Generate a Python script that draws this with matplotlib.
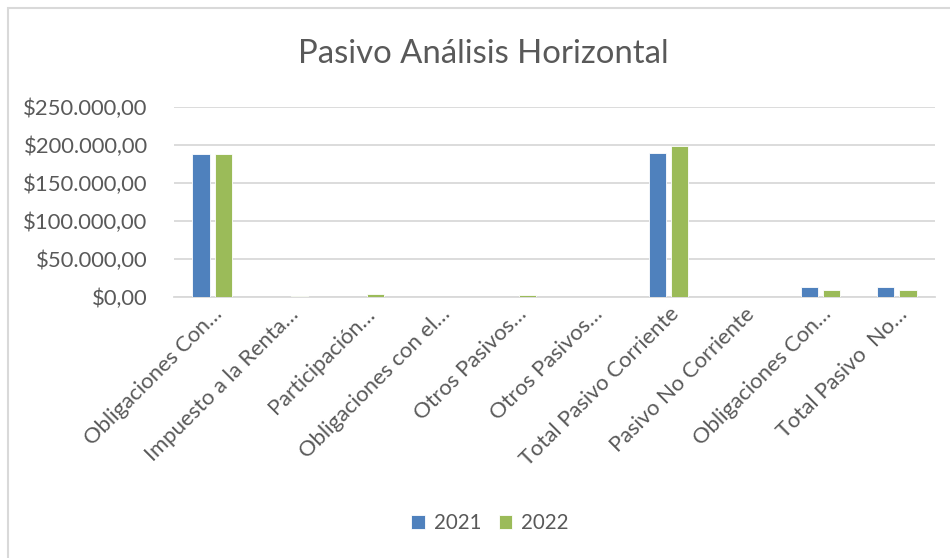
import matplotlib
matplotlib.use("Agg")
import matplotlib.pyplot as plt
import numpy as np
from matplotlib.patches import Rectangle
from matplotlib.ticker import FuncFormatter

categories = ["Obligaciones Con…", "Impuesto a la Renta…", "Participación…",
              "Obligaciones con el…", "Otros Pasivos…", "Otros Pasivos…",
              "Total Pasivo Corriente", "Pasivo No Corriente",
              "Obligaciones Con…", "Total Pasivo  No…"]
values_2021 = [187700, 300, 0, 300, 500, 0, 189200, 0, 12600, 12600]
values_2022 = [188600, 1800, 4500, 300, 2000, 0, 198200, 0, 9100, 9100]
series_names = ["2021", "2022"]
yticks = [0, 50000, 100000, 150000, 200000, 250000]

plt.rcParams['font.family'] = ['Lato', 'DejaVu Sans']
txt = '#595959'

fig = plt.figure(figsize=(9.5, 5.58), dpi=100)
fig.patches.append(Rectangle((7.5/950, -0.1), 1.2, 1 - 8.5/558 + 0.1,
                             transform=fig.transFigure, fill=False,
                             edgecolor='#D9D9D9', linewidth=1.5))
ax = fig.add_axes([174/950, 1 - 297/558, 761/950, 190/558])

x = np.arange(len(categories))
w = 0.225
off = 0.145
ax.bar(x - off, values_2021, w, color='#4F81BD', edgecolor='white', linewidth=0.6,
       label=series_names[0], zorder=3)
ax.bar(x + off, values_2022, w, color='#9BBB59', edgecolor='white', linewidth=0.6,
       label=series_names[1], zorder=3)

ax.set_xlim(-0.5, len(categories) - 0.5)
ax.set_ylim(0, 250000)
ax.set_yticks(yticks)
ax.yaxis.set_major_formatter(FuncFormatter(
    lambda v, p: "$" + f"{v:,.2f}".replace(",", "X").replace(".", ",").replace("X", ".")))
ax.grid(axis='y', color='#D9D9D9', linewidth=1.3, zorder=0)
for s in ['top', 'right', 'left']:
    ax.spines[s].set_visible(False)
ax.spines['bottom'].set_color('#D9D9D9')
ax.spines['bottom'].set_linewidth(1.3)
ax.tick_params(axis='y', length=0, pad=19, labelsize=15.8, labelcolor=txt)
ax.tick_params(axis='x', length=0, pad=5, labelsize=15.8, labelcolor=txt)
ax.set_xticks(x)
ax.set_xticklabels(categories, rotation=45, ha='right', rotation_mode='anchor')

fig.text(483/950, 1 - 54/558, "Pasivo Análisis Horizontal", ha='center', va='center',
         fontsize=23.7, color=txt)

leg = fig.legend(loc='center', bbox_to_anchor=(490/950, 1 - 523/558), ncol=2,
                 frameon=False, fontsize=14.8, handlelength=0.65, handleheight=0.65,
                 handletextpad=0.45, columnspacing=0.85)
for t in leg.get_texts():
    t.set_color(txt)

fig.savefig("out.png", dpi=100, facecolor='white')
